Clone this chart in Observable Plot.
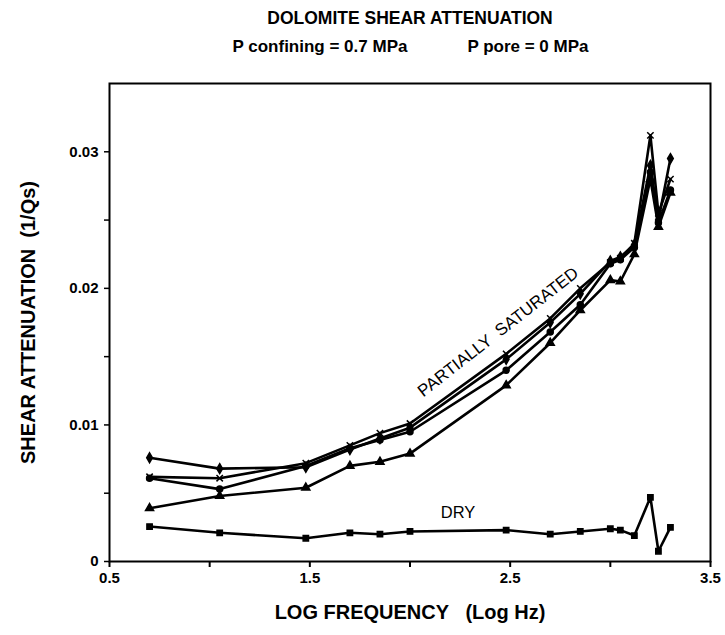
<!DOCTYPE html>
<html>
<head>
<meta charset="utf-8">
<script src="https://cdn.jsdelivr.net/npm/d3@7"></script>
<script src="https://cdn.jsdelivr.net/npm/@observablehq/plot@0.6"></script>
<style>
  html, body { margin: 0; padding: 0; background: white; }
  #chart svg { display: block; }
</style>
</head>
<body>
<div id="chart"></div>
<script>
// ---- data ----
const logFreq = [0.7, 1.05, 1.48, 1.7, 1.85, 2.0, 2.48, 2.7, 2.85, 3.0, 3.05, 3.12, 3.2, 3.24, 3.3];
const satDiamond  = [0.0076, 0.0068, 0.0069, 0.0082, 0.0090, 0.0098, 0.0148, 0.0175, 0.0196, 0.0220, 0.0223, 0.0232, 0.0290, 0.0250, 0.0295];
const satCross    = [0.0062, 0.0061, 0.0072, 0.0085, 0.0094, 0.0101, 0.0152, 0.0178, 0.0200, 0.0219, 0.0222, 0.0233, 0.0312, 0.0255, 0.0280];
const satCircle   = [0.0061, 0.0053, 0.0070, 0.0083, 0.0089, 0.0095, 0.0140, 0.0168, 0.0188, 0.0218, 0.0221, 0.0230, 0.0285, 0.0248, 0.0272];
const satTriangle = [0.0039, 0.0048, 0.0054, 0.0070, 0.0073, 0.0079, 0.0129, 0.0160, 0.0184, 0.0206, 0.0205, 0.0225, 0.0280, 0.0245, 0.0270];
const dry         = [0.00256, 0.0021, 0.0017, 0.0021, 0.0020, 0.0022, 0.0023, 0.0020, 0.0022, 0.0024, 0.0023, 0.0019, 0.0047, 0.00075, 0.0025];

const xTicks = [0.5, 1.0, 1.5, 2.0, 2.5, 3.0, 3.5];
const xTickLabels = ["0.5", "", "1.5", "", "2.5", "", "3.5"];
const yTicks = [0, 0.005, 0.01, 0.015, 0.02, 0.025, 0.03];
const yTickLabels = ["0", "", "0.01", "", "0.02", "", "0.03"];

const titleText = "DOLOMITE SHEAR ATTENUATION";
const subtitleLeft = "P confining = 0.7 MPa";
const subtitleRight = "P pore = 0 MPa";
const xLabel = "LOG FREQUENCY   (Log Hz)";
const yLabel = "SHEAR ATTENUATION  (1/Qs)";
const satLabel = "PARTIALLY  SATURATED";
const dryLabel = "DRY";

// ---- build table ----
const seriesDefs = [
  {name: "diamond", values: satDiamond, symbol: "diamond"},
  {name: "cross", values: satCross, symbol: "times"},
  {name: "circle", values: satCircle, symbol: "circle"},
  {name: "triangle", values: satTriangle, symbol: "triangle"},
  {name: "dry", values: dry, symbol: "square"}
];
const rows = seriesDefs.flatMap(s => logFreq.map((f, i) => ({series: s.name, sym: s.symbol, f, q: s.values[i]})));

const font = "'Liberation Sans', Arial, Helvetica, sans-serif";

const chart = Plot.plot({
  width: 725,
  height: 635,
  marginTop: 83,
  marginBottom: 74,
  marginLeft: 109,
  marginRight: 15,
  style: {fontFamily: font, fontSize: "15px", color: "black", background: "white"},
  x: {domain: [0.5, 3.5]},
  y: {domain: [0, 0.035]},
  symbol: {type: "identity"},
  marks: [
    Plot.frame({stroke: "black", strokeWidth: 2}),
    Plot.axisX({ticks: xTicks, tickSize: 6, tickPadding: 5, strokeWidth: 2,
      tickFormat: d => xTickLabels[xTicks.indexOf(d)], label: null, fontSize: 15, fontWeight: "bold"}),
    Plot.axisY({ticks: yTicks, tickSize: 5, tickPadding: 6, strokeWidth: 1.5,
      tickFormat: d => yTickLabels[yTicks.indexOf(d)], label: null, fontSize: 15, fontWeight: "bold"}),
    Plot.line(rows, {x: "f", y: "q", z: "series", stroke: "black", strokeWidth: 2.6}),
    Plot.dot(rows, {x: "f", y: "q", symbol: "sym", r: 3, fill: "black", stroke: "black", strokeWidth: 1.5}),
    Plot.text([satLabel], {x: 2.44, y: 0.0168, text: d => d, rotate: -38, fontSize: 17}),
    Plot.text([dryLabel], {x: 2.24, y: 0.0036, text: d => d, fontSize: 16.5}),
    Plot.text([titleText], {frameAnchor: "top", dy: -65, lineAnchor: "middle", text: d => d, fontSize: 17.5, fontWeight: "bold"}),
    Plot.text([subtitleLeft], {frameAnchor: "top-left", dx: 123, dy: -37, lineAnchor: "middle", textAnchor: "start", text: d => d, fontSize: 17, fontWeight: "bold"}),
    Plot.text([subtitleRight], {frameAnchor: "top-left", dx: 479, dy: -37, lineAnchor: "middle", textAnchor: "end", text: d => d, fontSize: 17, fontWeight: "bold"}),
    Plot.text([xLabel], {frameAnchor: "bottom", dy: 51, lineAnchor: "middle", text: d => d, fontSize: 20, fontWeight: "bold"}),
    Plot.text([yLabel], {x: 0.096, y: 0.0175, rotate: -90, lineAnchor: "middle", text: d => d, fontSize: 20, fontWeight: "bold"})
  ]
});
document.getElementById("chart").append(chart);
</script>
</body>
</html>
